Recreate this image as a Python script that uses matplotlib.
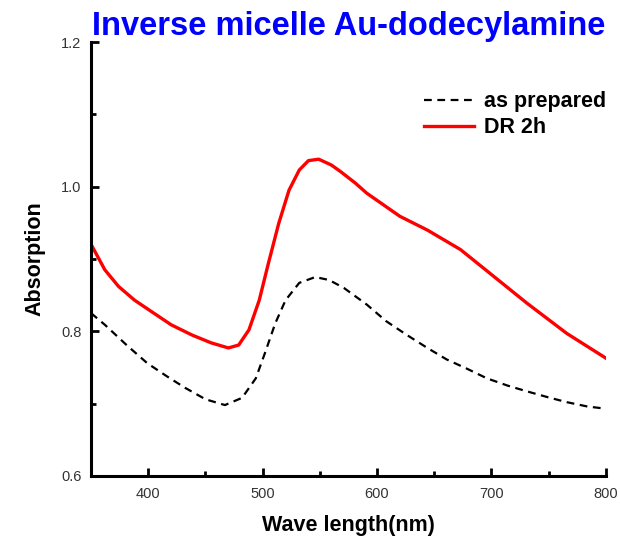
import matplotlib.pyplot as plt
from matplotlib.ticker import MultipleLocator

plt.rcParams['font.family'] = ['Liberation Sans', 'DejaVu Sans']

wl_prep = [350, 362, 381, 399, 416, 432, 450, 467, 482, 494, 502, 511, 520, 532,
           546, 558, 571, 591, 608, 626, 644, 661, 679, 696, 714, 731, 749, 766, 784, 800]
abs_prep = [0.825, 0.809, 0.781, 0.756, 0.738, 0.722, 0.706, 0.698, 0.708, 0.735, 0.770,
            0.811, 0.843, 0.867, 0.875, 0.871, 0.860, 0.837, 0.814, 0.795, 0.777, 0.761,
            0.748, 0.735, 0.725, 0.717, 0.709, 0.702, 0.696, 0.693]

wl_dr = [350, 362, 374, 388, 403, 420, 438, 455, 470, 479, 488, 497, 505, 514, 523, 532,
         540, 549, 560, 568, 581, 591, 620, 644, 673, 702, 731, 766, 800]
abs_dr = [0.920, 0.885, 0.862, 0.843, 0.827, 0.809, 0.795, 0.784, 0.777, 0.781, 0.802,
          0.843, 0.894, 0.949, 0.995, 1.023, 1.036, 1.038, 1.030, 1.021, 1.005, 0.991,
          0.959, 0.940, 0.913, 0.876, 0.839, 0.797, 0.763]

fig = plt.figure(figsize=(6.2, 5.39), dpi=100)
ax = fig.add_axes([0.147, 0.117, 0.830, 0.805])

ax.plot(wl_prep, abs_prep, color='black', lw=1.6, linestyle=(0, (3.5, 2.5)), label='as prepared')
ax.plot(wl_dr, abs_dr, color='#ff0000', lw=2.4, label='DR 2h')

ax.set_xlim(350, 800)
ax.set_ylim(0.6, 1.2)
ax.xaxis.set_major_locator(MultipleLocator(100))
ax.xaxis.set_minor_locator(MultipleLocator(50))
ax.yaxis.set_major_locator(MultipleLocator(0.2))
ax.yaxis.set_minor_locator(MultipleLocator(0.1))
ax.set_xticks([400, 500, 600, 700, 800])

for s in ['top', 'right']:
    ax.spines[s].set_visible(False)
for s in ['left', 'bottom']:
    ax.spines[s].set_linewidth(2.2)
ax.tick_params(which='major', direction='in', length=6, width=2, labelsize=10.5,
               labelcolor='#333333')
ax.tick_params(which='minor', direction='in', length=3.5, width=2)
ax.tick_params(axis='x', pad=8)
ax.tick_params(axis='y', pad=7)

ax.set_xlabel('Wave length(nm)', fontsize=15.5, fontweight='bold', labelpad=10)
ax.set_ylabel('Absorption', fontsize=15.5, fontweight='bold', labelpad=11)
ax.set_title('Inverse micelle Au-dodecylamine', fontsize=23.5, fontweight='bold',
             color='#0000ff', pad=0)

ax.legend(loc='upper right', bbox_to_anchor=(1.0, 0.887), frameon=False,
          prop={'weight': 'bold', 'size': 15.5}, handlelength=2.3, handletextpad=0.45,
          labelspacing=0.25, borderaxespad=0.0, borderpad=0.0)

fig.savefig('out.png', dpi=100)
